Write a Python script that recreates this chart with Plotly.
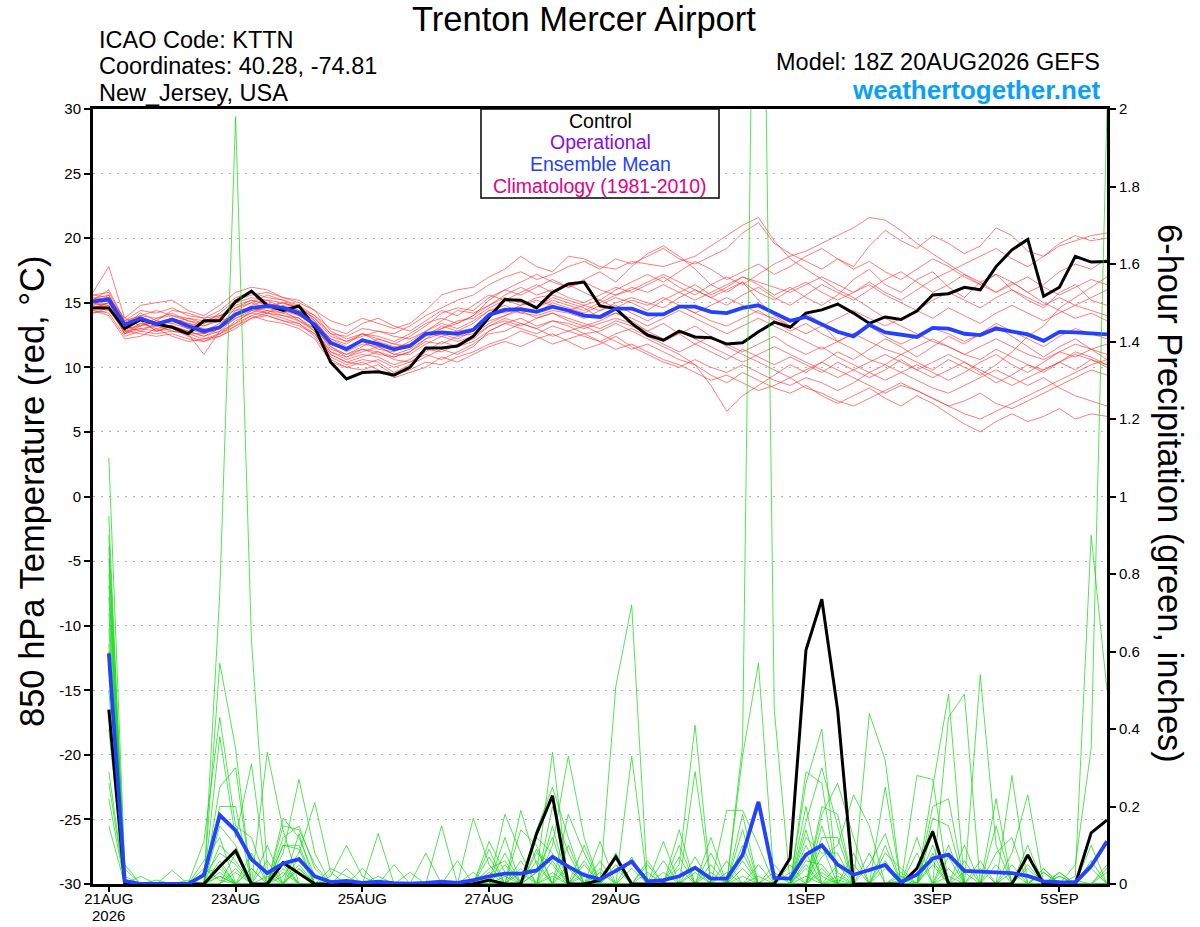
import datetime as dt
import plotly.graph_objects as go

# ---------------- data ----------------
run_start = dt.datetime(2026, 8, 20, 18)
n_steps = 65  # 6-hourly, 20AUG 18Z .. 5SEP 18Z

tick_dates = ["2026-08-21", "2026-08-23", "2026-08-25", "2026-08-27",
              "2026-08-29", "2026-09-01", "2026-09-03", "2026-09-05"]
tick_labels = ["21AUG", "23AUG", "25AUG", "27AUG", "29AUG", "1SEP", "3SEP", "5SEP"]
year_label = "2026"

temp_ticks = [30, 25, 20, 15, 10, 5, 0, -5, -10, -15, -20, -25, -30]
precip_ticks = [0, 0.2, 0.4, 0.6, 0.8, 1.0, 1.2, 1.4, 1.6, 1.8, 2.0]
precip_tick_labels = ["0", "0.2", "0.4", "0.6", "0.8", "1", "1.2", "1.4", "1.6", "1.8", "2"]

# Control (black) 850 hPa temperature, steps 0..64
control_temp = [14.6, 14.6, 13.0, 13.7, 13.35, 13.1, 12.6, 13.6, 13.6, 15.1,
                15.9, 14.8, 14.4, 14.75, 13.1, 10.4, 9.1, 9.6, 9.65, 9.4,
                10.0, 11.5, 11.5, 11.65, 12.4, 13.9, 15.25, 15.2, 14.6, 15.8,
                16.45, 16.6, 14.75, 14.55, 13.4, 12.5, 12.1, 12.8, 12.35, 12.3,
                11.8, 11.9, 12.75, 13.5, 13.1, 14.2, 14.45, 14.9, 14.2, 13.4,
                13.9, 13.7, 14.35, 15.6, 15.7, 16.2, 16.0, 17.8, 19.1, 19.9,
                15.5, 16.2, 18.6, 18.15, 18.2]

# Ensemble mean (blue) temperature, steps 0..64
mean_temp = [15.1, 15.25, 13.3, 13.8, 13.35, 13.7, 13.2, 12.8, 13.1, 14.1,
             14.6, 14.75, 14.6, 14.2, 13.3, 11.9, 11.4, 12.1, 11.8, 11.4,
             11.65, 12.6, 12.7, 12.6, 12.9, 14.05, 14.45, 14.5, 14.3, 14.7,
             14.4, 14.0, 13.9, 14.55, 14.55, 14.1, 14.1, 14.7, 14.7, 14.3,
             14.2, 14.6, 14.8, 14.2, 13.6, 13.9, 13.3, 12.75, 12.4, 13.3,
             12.7, 12.5, 12.35, 13.05, 13.0, 12.6, 12.5, 13.0, 12.75, 12.55,
             12.05, 12.75, 12.7, 12.6, 12.55]

# Ensemble members (red) temperature, steps 0..64
temp_members = [
    [15.3, 15.6, 13.5, 14.0, 13.8, 14.2, 13.6, 13.4, 13.9, 15.0, 15.4, 15.2, 15.0, 14.6, 13.8,
     12.6, 12.4, 13.0, 12.8, 12.6, 13.2, 14.0, 14.6, 15.2, 15.6, 16.4, 17.0, 17.4, 16.8, 17.2,
     17.8, 18.2, 17.6, 18.4, 18.0, 18.6, 19.2, 18.4, 18.0, 18.6, 19.2, 20.4, 21.2, 19.6, 18.8,
     18.2, 17.6, 18.4, 17.8, 19.4, 20.6, 19.8, 19.2, 20.2, 19.6, 18.8, 19.4, 20.8, 20.2, 19.0,
     18.6, 19.6, 20.2, 19.8, 20.0],
    [14.8, 15.0, 12.8, 13.4, 13.0, 13.2, 12.8, 12.4, 13.0, 14.4, 15.0, 15.6, 15.2, 14.8, 13.6,
     12.0, 11.2, 11.8, 11.6, 11.0, 11.4, 12.2, 13.0, 13.4, 14.0, 15.2, 16.0, 16.6, 17.2, 16.6,
     16.2, 16.8, 17.4, 16.6, 17.8, 18.8, 19.4, 18.6, 17.6, 16.4, 15.8, 16.6, 15.2, 14.0, 13.2,
     14.2, 13.4, 12.0, 11.4, 10.6, 10.2, 11.0, 10.4, 9.8, 10.6, 10.0, 9.4, 10.2, 11.2, 12.4,
     13.2, 14.6, 15.4, 16.2, 17.0],
    [15.0, 14.6, 13.2, 12.8, 13.4, 13.8, 13.4, 13.0, 12.6, 13.6, 14.2, 14.8, 14.4, 14.0, 13.4,
     11.6, 10.8, 11.4, 11.2, 10.8, 11.2, 12.0, 11.8, 12.4, 12.6, 13.4, 14.0, 14.6, 14.2, 15.0,
     14.6, 14.2, 14.8, 15.4, 15.0, 14.4, 15.2, 15.8, 16.4, 15.6, 16.2, 17.0, 16.4, 15.6, 16.2,
     15.4, 14.8, 15.6, 16.8, 17.6, 16.4, 15.8, 16.8, 17.4, 16.2, 15.4, 16.6, 17.2, 16.0, 15.2,
     14.6, 15.8, 16.4, 15.2, 14.8],
    [15.4, 15.2, 13.0, 13.6, 12.8, 13.0, 12.4, 12.0, 12.6, 13.2, 14.0, 14.4, 14.0, 13.6, 12.8,
     11.0, 10.4, 10.2, 10.6, 10.0, 10.4, 11.0, 10.6, 11.2, 11.8, 12.6, 12.8, 13.4, 13.0, 12.4,
     12.8, 13.2, 12.6, 12.0, 11.4, 11.8, 11.2, 10.6, 10.2, 9.4, 8.8, 9.6, 9.0, 8.4, 8.0,
     8.6, 7.8, 7.2, 7.8, 8.4, 7.6, 7.0, 7.8, 7.2, 6.4, 5.6, 5.0, 5.8, 6.4, 5.8,
     6.2, 6.8, 6.0, 6.4, 6.2],
    [14.6, 14.8, 12.6, 13.2, 13.6, 13.4, 13.0, 12.8, 13.4, 14.2, 14.6, 14.2, 14.8, 14.4, 13.2,
     11.4, 11.0, 11.6, 12.2, 11.8, 11.6, 12.4, 13.2, 12.8, 13.4, 14.4, 14.8, 14.2, 14.6, 15.4,
     15.0, 14.6, 13.8, 14.2, 13.6, 12.8, 13.4, 12.6, 11.8, 11.2, 10.6, 11.4, 10.8, 10.2, 10.8,
     10.2, 9.6, 10.4, 9.8, 9.2, 9.8, 10.6, 9.8, 9.2, 9.8, 10.4, 9.6, 8.8, 9.4, 10.2,
     9.6, 10.4, 11.2, 10.8, 10.2],
    [15.2, 16.0, 13.6, 14.4, 14.2, 14.6, 14.0, 13.8, 14.4, 15.4, 15.8, 15.4, 15.2, 14.6, 14.0,
     13.0, 12.6, 13.4, 13.8, 13.2, 12.8, 13.6, 14.4, 14.0, 14.8, 15.6, 15.2, 15.8, 16.4, 15.8,
     16.4, 15.8, 15.2, 16.0, 16.6, 17.2, 16.6, 17.4, 18.2, 17.6, 16.8, 17.4, 18.0, 17.2, 17.8,
     18.6, 19.2, 18.4, 17.6, 18.2, 17.4, 16.8, 17.6, 18.4, 17.8, 17.0, 16.4, 17.2, 16.6, 15.8,
     16.4, 17.4, 18.0, 17.6, 18.4],
    [14.4, 14.2, 12.4, 12.8, 12.6, 12.8, 12.6, 11.0, 12.8, 13.8, 14.2, 14.0, 13.6, 13.4, 12.6,
     10.8, 10.2, 10.6, 10.4, 9.6, 10.2, 10.8, 11.4, 11.0, 11.6, 12.8, 13.4, 13.8, 13.2, 13.6,
     13.2, 12.6, 12.8, 13.4, 12.8, 12.2, 11.6, 11.0, 10.2, 8.6, 6.6, 7.8, 8.6, 9.4, 10.2,
     9.6, 10.4, 11.2, 10.6, 11.4, 12.2, 11.6, 10.8, 11.6, 12.4, 11.8, 12.6, 13.2, 12.4, 11.6,
     10.8, 11.6, 12.2, 11.4, 10.6],
    [15.6, 15.4, 13.4, 13.8, 13.2, 13.6, 13.2, 12.6, 13.2, 14.6, 15.2, 15.0, 14.6, 14.0, 13.2,
     11.8, 11.4, 12.2, 11.8, 11.4, 12.0, 12.8, 13.6, 14.4, 14.2, 14.8, 15.6, 16.2, 15.6, 16.0,
     15.4, 15.0, 15.6, 16.2, 15.8, 16.4, 17.0, 16.2, 15.6, 16.4, 17.0, 16.4, 17.2, 18.0, 18.6,
     19.0, 19.6, 20.2, 20.8, 21.6, 21.4, 20.6, 19.6, 18.8, 18.0, 17.2, 16.4, 15.8, 16.6, 15.8,
     15.0, 14.4, 13.8, 14.2, 13.6],
    [14.2, 14.4, 12.8, 12.6, 12.4, 12.6, 12.2, 12.0, 12.4, 13.0, 13.8, 14.2, 13.8, 13.4, 12.4,
     10.6, 10.0, 9.8, 10.2, 9.4, 9.8, 10.4, 10.2, 10.8, 11.2, 11.8, 12.2, 12.8, 12.4, 11.8,
     12.2, 12.6, 12.0, 11.4, 11.8, 11.2, 10.6, 10.2, 9.6, 9.0, 9.4, 8.8, 8.2, 8.6, 9.2,
     8.4, 8.0, 7.4, 7.0, 7.6, 8.2, 8.8, 8.2, 7.6, 7.0, 7.4, 8.0, 7.2, 6.8, 7.4,
     8.0, 8.6, 9.2, 9.8, 9.4],
    [15.0, 15.2, 13.4, 13.6, 13.4, 13.8, 13.4, 13.2, 13.6, 14.0, 14.8, 15.2, 14.6, 14.2, 13.4,
     12.2, 11.8, 12.6, 12.0, 11.6, 11.8, 12.6, 12.4, 12.8, 13.0, 14.2, 14.6, 14.2, 14.0, 14.4,
     14.2, 13.8, 14.4, 14.8, 14.2, 13.6, 14.2, 14.8, 14.2, 13.6, 13.2, 13.8, 14.4, 13.6, 12.8,
     13.4, 12.6, 12.0, 12.6, 13.2, 12.4, 11.8, 12.4, 13.0, 12.6, 12.0, 12.6, 13.4, 12.8, 12.2,
     11.6, 12.4, 13.0, 12.6, 12.2],
    [15.8, 17.8, 13.8, 14.8, 15.0, 15.2, 14.4, 14.0, 14.8, 15.8, 16.2, 16.0, 15.4, 15.0, 14.4,
     13.6, 13.2, 13.8, 13.4, 13.0, 13.4, 14.4, 15.6, 16.0, 16.2, 17.0, 17.6, 18.6, 17.8, 17.4,
     18.6, 18.4, 17.8, 17.6, 18.2, 18.0, 17.8, 18.2, 18.6, 19.4, 20.2, 21.0, 21.6, 19.8, 18.4,
     17.6, 16.8, 16.0, 15.4, 14.6, 13.8, 13.2, 12.6, 12.0, 11.6, 11.0, 10.6, 11.4, 10.8, 10.2,
     9.8, 10.4, 11.0, 10.6, 10.0],
    [14.6, 15.0, 13.0, 13.2, 13.8, 14.0, 13.6, 13.2, 13.8, 14.8, 15.2, 14.8, 15.0, 14.4, 13.6,
     12.2, 11.6, 12.0, 11.4, 11.2, 11.8, 12.6, 13.0, 13.6, 13.8, 14.6, 15.2, 14.8, 15.4, 15.6,
     15.2, 14.8, 14.4, 15.0, 15.4, 15.0, 14.6, 15.4, 16.0, 15.4, 14.8, 15.6, 16.2, 15.4, 14.8,
     15.6, 16.4, 15.8, 15.2, 16.0, 16.8, 17.4, 16.6, 15.8, 16.4, 17.2, 16.6, 15.8, 16.4, 17.0,
     16.2, 15.6, 16.2, 16.8, 16.4],
    [15.2, 15.4, 12.6, 13.0, 12.8, 13.2, 12.8, 12.4, 12.8, 13.4, 14.4, 14.6, 14.2, 13.8, 12.8,
     11.2, 10.6, 11.0, 10.8, 10.2, 10.6, 11.4, 11.2, 11.8, 12.2, 13.2, 13.6, 13.2, 13.8, 14.2,
     13.8, 13.4, 13.0, 13.6, 13.2, 12.6, 12.0, 12.6, 13.2, 12.4, 11.8, 11.2, 11.8, 12.4, 11.6,
     11.0, 11.6, 10.8, 10.2, 9.6, 9.0, 9.6, 10.2, 9.6, 9.0, 9.6, 10.4, 11.0, 10.2, 9.6,
     10.4, 11.2, 10.8, 11.4, 11.8],
    [14.8, 15.6, 13.2, 14.2, 13.6, 13.4, 13.8, 13.6, 14.0, 14.4, 14.6, 14.4, 14.2, 14.8, 14.0,
     12.6, 12.0, 12.4, 12.8, 12.4, 12.2, 12.8, 13.4, 13.0, 13.6, 14.4, 14.2, 14.8, 15.2, 14.8,
     14.4, 14.8, 15.2, 14.6, 15.2, 14.8, 15.4, 14.8, 14.2, 14.8, 15.4, 14.8, 14.2, 13.8, 13.2,
     12.6, 13.2, 13.8, 14.4, 13.8, 13.2, 13.8, 14.4, 13.8, 14.6, 14.0, 13.4, 14.2, 14.8, 14.2,
     13.6, 14.2, 14.8, 14.4, 14.0],
    [14.4, 14.0, 12.2, 12.4, 13.0, 12.4, 12.0, 12.2, 12.6, 13.4, 14.0, 13.6, 13.4, 13.0, 12.2,
     10.4, 10.0, 10.4, 9.8, 9.2, 9.6, 10.0, 10.8, 10.4, 11.0, 11.6, 12.0, 11.6, 12.2, 12.6,
     12.0, 11.4, 11.8, 12.4, 11.6, 11.0, 10.4, 10.0, 10.6, 10.0, 9.6, 10.2, 9.6, 9.0, 8.6,
     9.2, 8.8, 8.2, 8.8, 9.6, 10.2, 9.6, 9.0, 8.4, 8.0, 8.6, 9.2, 9.8, 9.2, 8.6,
     9.2, 8.4, 7.8, 7.4, 7.0],
    [15.6, 15.8, 13.6, 14.0, 14.4, 14.0, 13.8, 13.4, 14.2, 15.2, 15.6, 15.8, 15.4, 15.2, 14.4,
     12.8, 12.2, 12.6, 12.2, 11.8, 12.4, 13.2, 14.2, 14.6, 14.4, 15.4, 16.0, 15.6, 16.2, 16.8,
     16.2, 16.6, 16.0, 15.6, 16.2, 15.8, 16.4, 15.8, 15.2, 15.8, 16.4, 17.0, 16.6, 16.2, 15.8,
     16.4, 17.0, 16.4, 15.8, 16.6, 15.8, 15.2, 16.0, 16.8, 17.4, 18.0, 18.6, 19.2, 18.4, 17.8,
     18.6, 19.4, 19.8, 20.2, 20.4],
    [14.2, 14.6, 12.6, 13.4, 13.2, 12.8, 12.6, 12.2, 12.4, 13.2, 13.8, 14.0, 13.6, 13.2, 12.6,
     11.0, 10.4, 10.8, 11.2, 10.6, 10.4, 11.2, 12.0, 11.6, 12.0, 12.8, 13.4, 13.0, 12.6, 13.2,
     12.8, 12.4, 12.0, 12.6, 13.0, 12.4, 11.8, 11.2, 11.8, 12.4, 11.6, 11.0, 10.4, 9.8, 9.2,
     9.8, 10.4, 9.8, 9.2, 8.6, 8.0, 8.6, 8.2, 7.6, 7.0, 6.4, 6.0, 6.6, 7.2, 7.8,
     8.4, 9.0, 9.6, 10.2, 10.6],
    [15.0, 15.4, 13.8, 13.2, 13.6, 14.4, 14.2, 13.8, 14.0, 14.6, 15.0, 14.6, 15.0, 14.6, 13.8,
     12.4, 12.0, 12.6, 12.4, 12.0, 12.6, 13.4, 13.8, 13.4, 14.0, 14.8, 15.4, 15.0, 14.6, 15.2,
     14.8, 14.4, 15.0, 15.6, 16.0, 16.6, 17.2, 16.6, 16.0, 15.4, 16.0, 16.6, 15.8, 15.2, 16.0,
     16.6, 15.8, 15.2, 15.8, 16.4, 15.6, 15.0, 14.4, 15.2, 15.8, 15.2, 14.6, 15.4, 16.0, 15.4,
     14.8, 15.4, 14.8, 15.4, 16.0],
    [14.6, 15.0, 13.0, 13.6, 12.8, 13.2, 12.6, 12.6, 13.2, 14.0, 14.6, 14.8, 14.4, 13.6, 13.0,
     11.6, 11.0, 11.4, 11.0, 10.8, 11.2, 12.2, 12.6, 12.2, 12.8, 13.6, 14.0, 14.4, 13.8, 14.2,
     13.6, 13.2, 13.6, 14.2, 13.8, 13.2, 13.8, 14.4, 13.8, 13.2, 12.6, 13.2, 13.8, 13.2, 12.6,
     12.0, 11.4, 12.0, 12.6, 12.0, 11.4, 11.0, 11.6, 12.2, 11.6, 11.0, 11.6, 12.2, 11.6, 11.0,
     10.6, 11.2, 11.8, 11.4, 11.0],
    [15.0, 14.8, 12.8, 13.0, 13.2, 13.6, 13.0, 12.6, 13.0, 13.8, 14.4, 14.2, 14.0, 13.8, 13.0,
     11.2, 10.8, 11.2, 11.6, 11.0, 11.0, 11.8, 12.4, 12.0, 12.4, 13.2, 13.8, 13.4, 13.0, 13.6,
     13.4, 13.0, 13.4, 13.8, 13.4, 12.8, 12.2, 12.8, 12.2, 11.6, 11.0, 10.4, 11.0, 11.6, 11.0,
     10.4, 9.8, 9.2, 9.8, 10.4, 11.0, 10.4, 9.8, 10.4, 11.0, 10.4, 9.8, 9.2, 8.6, 9.2,
     9.8, 10.4, 9.8, 10.6, 10.2],
]

# 6-hour precipitation, steps 1..64 (first total ends 21AUG 00Z)
control_precip = [0.45, 0, 0, 0, 0, 0, 0, 0.045, 0.086, 0, 0, 0.055, 0.028, 0, 0, 0,
                  0, 0, 0, 0, 0, 0, 0, 0, 0.01, 0, 0, 0.13, 0.228, 0, 0, 0.01,
                  0.07, 0, 0, 0, 0, 0, 0, 0, 0, 0, 0, 0.067, 0.604, 0.735, 0.449, 0,
                  0, 0, 0, 0.04, 0.135, 0, 0, 0, 0, 0, 0.075, 0, 0, 0, 0.132, 0.165]

mean_precip = [0.595, 0.008, 0, 0, 0, 0, 0.023, 0.178, 0.138, 0.064, 0.028, 0.053, 0.064, 0.02, 0.005, 0.008,
               0.003, 0.006, 0.002, 0.001, 0.003, 0.006, 0.003, 0.01, 0.02, 0.027, 0.027, 0.035, 0.07, 0.045, 0.023, 0.012,
               0.034, 0.058, 0.007, 0.01, 0.02, 0.042, 0.014, 0.014, 0.075, 0.212, 0.016, 0.014, 0.076, 0.1, 0.05, 0.024,
               0.036, 0.049, 0.005, 0.024, 0.066, 0.076, 0.034, 0.032, 0.03, 0.028, 0.021, 0.007, 0.005, 0.004, 0.046, 0.11]

precip_members = [
    [1.1, .05, 0, 0, 0, 0, .11, .43, .15, .12, 0, .1, .1, 0, 0, 0, 0, 0, 0, 0, 0, 0, 0, 0,
     .07, 0, 0, .12, .08, 0, .05, 0, 0, 0, 0, .06, 0, 0, 0, 0, .33, .57, 0, 0, .06, .05, 0, .08,
     0, 0, 0, 0, .14, 0, 0, 0, 0, .28, 0, 0, .03, 0, 0, 0],
    [.95, 0, 0, 0, .035, 0, 0, .25, .3, 0, .1, 0, .05, 0, .01, 0, 0, .02, 0, 0, 0, 0, 0, 0,
     0, .08, 0, .03, .34, 0, 0, 0, 0, .07, 0, 0, .04, 0, 0, 0, .04, 0, 0, 0, .29, .26, 0, 0,
     0, .06, 0, 0, .06, 0, 0, 0, 0, 0, .1, 0, 0, 0, 0, 0],
    [.9, .04, 0, 0, 0, 0, .02, .08, .05, 0, 0, .08, .27, .08, 0, 0, 0, 0, 0, 0, 0, 0, 0, .03,
     0, 0, .03, 0, 0, .1, 0, 0, .05, 0, 0, 0, 0, 0, .08, 0, 0, 0, .05, 0, 0, .12, .12, 0,
     0, .25, 0, 0, 0, .1, 0, .54, .1, 0, 0, 0, 0, 0, .1, 0],
    [.87, 0, 0, 0, 0, 0, 0, .75, 1.98, .63, .04, 0, 0, 0, 0, 0, 0, 0, 0, 0, 0, 0, 0, 0,
     0, 0, .06, 0, .03, 0, .03, 0, 0, 0, .03, 0, 0, 0, 0, 0, .14, 0, 0, 0, .14, 0, .02, 0,
     0, 0, 0, .12, 0, 0, 0, 0, 0, .03, 0, 0, 0, 0, 0, .04],
    [.84, 0, .02, 0, 0, 0, .06, .12, 0, .08, 0, .03, 0, 0, .04, .02, 0, 0, 0, 0, 0, 0, 0, 0,
     .03, 0, 0, .06, 0, 0, 0, .11, 0, 0, 0, 0, 0, .07, 0, 0, 0, .05, 0, 0, 0, .18, .26, .12,
     0, 0, 0, 0, 0, 0, .03, 0, 0, 0, 0, .04, 0, 0, 0, 0],
    [.8, 0, 0, 0, 0, 0, 0, .57, .35, 0, 0, .15, .14, .05, 0, 0, 0, 0, 0, 0, 0, 0, 0, 0,
     0, .05, 0, 0, .2, .08, 0, 0, .08, 0, 0, 0, .14, 0, 0, 0, .06, 0, 0, 0, .1, .02, 0, 0,
     0, 0, .03, 0, .2, .22, 0, 0, .05, 0, 0, 0, 0, 0, 0, 0],
    [.77, .02, 0, 0, 0, 0, 0, .06, 0, 0, .34, .14, 0, 0, 0, 0, 0, 0, 0, .03, 0, 0, 0, 0,
     0, 0, 0, .09, 0, 0, .02, 0, 0, 0, 0, .03, 0, 0, 0, .06, 0, 0, 0, .05, 0, .1, 0, 0,
     .44, .32, 0, 0, 0, .02, 0, 0, 0, 0, 0, 0, 0, .02, .9, .5],
    [.74, 0, 0, 0, 0, 0, .04, .01, 0, 0, 0, 0, .07, 0, 0, .04, 0, 0, 0, 0, 0, 0, 0, 0,
     .09, 0, 0, 0, .1, .33, .12, 0, 0, 0, 0, 0, 0, .03, 0, 0, .1, 0, 0, 0, .2, 0, 0, .05,
     0, 0, 0, 0, .1, 0, 0, 0, 0, .08, .23, 0, 0, 0, 0, 0],
    [.7, 0, 0, .01, 0, 0, 0, .2, .2, 0, 0, .17, .12, .02, 0, 0, 0, 0, 0, 0, 0, 0, 0, 0,
     0, .18, .08, 0, 0, 0, 0, 0, 0, .33, 0, 0, 0, 0, .03, 0, 0, .02, 0, 0, 0, .2, .18, 0,
     0, 0, 0, 0, .05, 0, .1, 0, 0, 0, 0, .03, 0, 0, .06, 0],
    [.66, 0, 0, 0, 0, 0, .03, .04, 0, 0, 0, .12, .15, .04, 0, 0, 0, 0, 0, 0, 0, 0, 0, 0,
     .04, .06, 0, .03, .12, 0, 0, .04, 0, 0, 0, 0, .05, .41, 0, 0, 0, 0, 0, 0, .04, 0, .05, 0,
     0, .1, 0, 0, 0, .07, 0, 0, .22, 0, 0, 0, 0, 0, 0, .03],
    [.62, 0, 0, 0, 0, 0, 0, .38, .12, .31, 0, 0, 0, 0, 0, 0, 0, 0, .05, 0, 0, 0, 0, 0,
     0, 0, .19, .05, 0, 0, .06, 0, 0, 0, .06, 0, 0, 0, 0, .03, 0, 0, 0, 0, .12, .08, .08, 0,
     0, 0, 0, .28, .27, 0, 0, .04, 0, 0, 0, 0, 0, .01, 0, 0],
    [.6, .01, 0, 0, 0, 0, 0, .03, 0, .04, 0, .02, .08, .21, .03, 0, 0, 0, 0, 0, 0, 0, 0, 0,
     .01, 0, 0, 0, .06, 0, 0, 0, .04, 0, 0, 0, 0, .04, 0, 0, .36, 3.5, .45, 0, 0, .04, 0, 0,
     0, 0, .02, 0, 0, 0, 0, 0, 0, 0, 0, .04, 0, 0, 0, 0],
    [.56, 0, 0, 0, 0, 0, 0, .15, .1, 0, .06, 0, 0, 0, 0, 0, 0, .13, 0, 0, 0, 0, 0, 0,
     0, 0, .14, .1, 0, .05, 0, 0, 0, .04, 0, 0, 0, 0, .05, 0, 0, 0, .03, 0, .02, 0, .01, 0,
     .08, 0, 0, 0, 0, .43, .49, 0, 0, 0, 0, 0, .03, 0, 0, 0],
    [.5, 0, 0, 0, 0, .01, 0, 0, .08, 0, 0, .1, .09, 0, 0, 0, 0, 0, 0, 0, 0, 0, 0, .17,
     .05, 0, 0, 0, .02, 0, 0, .06, 0, 0, 0, 0, .1, 0, 0, 0, .02, 0, 0, 0, .26, .4, 0, 0,
     0, 0, 0, 0, .08, 0, 0, 0, .08, .12, 0, 0, 0, 0, 0, 0],
    [.45, 0, 0, 0, 0, 0, 0, .02, 0, .04, 0, 0, .04, 0, 0, 0, 0, 0, 0, 0, .08, 0, 0, 0,
     0, 0, 0, .14, .25, .12, 0, 0, 0, 0, .05, 0, 0, 0, 0, 0, .18, 0, 0, 0, .05, 0, 0, 0,
     0, .08, .04, 0, .17, .15, 0, 0, 0, 0, .05, 0, 0, .05, .35, 2.0],
    [.4, 0, 0, 0, 0, 0, 0, .1, .06, 0, 0, .06, 0, 0, .02, .1, .02, 0, 0, 0, 0, 0, 0, 0,
     .11, .03, 0, 0, 0, 0, .1, 0, 0, 0, 0, 0, 0, .29, 0, 0, 0, 0, 0, 0, 0, .07, .1, .23,
     .15, 0, 0, 0, 0, 0, 0, .06, 0, 0, 0, 0, .02, 0, 0, 0],
    [.29, 0, 0, 0, 0, 0, 0, 0, .04, 0, 0, 0, .13, 0, 0, 0, 0, 0, 0, 0, 0, 0, 0, 0,
     0, .12, 0, 0, .15, 0, 0, .03, 0, 0, 0, .11, 0, 0, 0, 0, .08, 0, 0, 0, .16, .3, .15, 0,
     0, 0, 0, .08, 0, 0, .06, 0, 0, 0, .04, 0, 0, 0, 0, 0],
    [.26, 0, 0, 0, 0, 0, 0, .05, 0, 0, 0, .05, 0, 0, 0, 0, .04, 0, 0, 0, 0, 0, 0, 0,
     0, 0, .04, 0, 0, .04, 0, 0, .51, .72, 0, 0, 0, 0, 0, 0, 0, 0, 0, 0, 0, .03, 0, 0,
     0, .04, 0, 0, 0, .04, 0, 0, 0, .05, 0, 0, 0, 0, .04, 0],
    [.22, 0, 0, 0, 0, 0, 0, 0, .03, 0, .02, 0, .04, 0, 0, 0, 0, 0, 0, 0, 0, .15, 0, 0,
     0, .02, 0, 0, 0, .18, .08, 0, 0, 0, 0, 0, 0, 0, 0, .19, .19, .1, 0, 0, .08, 0, 0, 0,
     .05, .13, 0, 0, 0, 0, 0, 0, .15, 0, 0, .03, 0, 0, 0, .05],
    [.15, 0, 0, 0, 0, 0, 0, .02, 0, 0, 0, .04, 0, 0, 0, 0, 0, 0, 0, 0, 0, 0, .06, 0,
     0, 0, 0, .08, .05, 0, 0, 0, 0, 0, 0, 0, .07, 0, .12, 0, 0, 0, 0, .03, 0, .15, .03, 0,
     0, 0, .01, 0, .25, .49, 0, 0, 0, 0, 0, 0, .02, 0, 0, 0],
]

for row in temp_members:
    assert len(row) == n_steps, len(row)
for row in precip_members:
    assert len(row) == n_steps - 1, len(row)
assert len(control_temp) == n_steps and len(mean_temp) == n_steps
assert len(control_precip) == n_steps - 1 and len(mean_precip) == n_steps - 1

# ---------------- figure ----------------
times = [run_start + dt.timedelta(hours=6 * i) for i in range(n_steps)]
ptimes = times[1:]

FONT = "Liberation Sans, Arial, Helvetica, sans-serif"
RED = "rgba(255,50,50,0.8)"
GREEN = "rgba(20,215,20,0.9)"
BLUE = "rgb(35,65,255)"

fig = go.Figure()

for row in temp_members:
    fig.add_trace(go.Scatter(x=times, y=row, mode="lines", yaxis="y",
                             line=dict(color=RED, width=0.8), hoverinfo="skip"))
fig.add_trace(go.Scatter(x=times, y=control_temp, mode="lines", yaxis="y",
                         line=dict(color="black", width=3)))
fig.add_trace(go.Scatter(x=times, y=mean_temp, mode="lines", yaxis="y",
                         line=dict(color=BLUE, width=3.8)))

for row in precip_members:
    fig.add_trace(go.Scatter(x=ptimes, y=row, mode="lines", yaxis="y2",
                             line=dict(color=GREEN, width=0.8), hoverinfo="skip"))
fig.add_trace(go.Scatter(x=ptimes, y=control_precip, mode="lines", yaxis="y2",
                         line=dict(color="black", width=3)))
fig.add_trace(go.Scatter(x=ptimes, y=mean_precip, mode="lines", yaxis="y2",
                         line=dict(color=BLUE, width=3.8)))

fig.update_layout(
    width=1200, height=927,
    margin=dict(l=93, r=93, t=109, b=43, autoexpand=False),
    paper_bgcolor="white", plot_bgcolor="white",
    showlegend=False,
    font=dict(family=FONT, color="black", size=15),
    xaxis=dict(
        type="date", automargin=False,
        range=[times[0], times[-1]],
        tickvals=tick_dates, ticktext=tick_labels,
        ticks="outside", ticklen=5, tickwidth=1.5, tickcolor="black",
        ticklabelstandoff=-6,
        showline=True, linewidth=3, linecolor="black", mirror=True,
        showgrid=False, zeroline=False,
        tickfont=dict(size=15),
    ),
    yaxis=dict(
        automargin=False,
        range=[-30, 30],
        tickvals=temp_ticks, ticktext=[str(v) for v in temp_ticks],
        ticks="outside", ticklen=6, tickwidth=1.5, tickcolor="black",
        showline=True, linewidth=3, linecolor="black", mirror=True,
        showgrid=True, gridcolor="#b4b4b4", gridwidth=1, griddash="2px,6px",
        zeroline=False, tickfont=dict(size=15),
    ),
    yaxis2=dict(
        automargin=False,
        range=[0, 2], overlaying="y", side="right",
        tickvals=precip_ticks, ticktext=precip_tick_labels,
        ticks="outside", ticklen=6, tickwidth=1.5, tickcolor="black",
        showline=True, linewidth=3, linecolor="black",
        showgrid=False, zeroline=False, tickfont=dict(size=15),
    ),
)

def px_x(px):
    return (px - 93) / 1014.0

def px_y(py):
    return (884 - py) / 775.0

ann = []
ann.append(dict(text="Trenton Mercer Airport", x=px_x(584), y=px_y(19), xref="paper", yref="paper",
                xanchor="center", yanchor="middle", showarrow=False, font=dict(size=34.5)))
for txt, py in [("ICAO Code: KTTN", 40), ("Coordinates: 40.28, -74.81", 66), ("New_Jersey, USA", 93)]:
    ann.append(dict(text=txt, x=px_x(97), y=px_y(py), xref="paper", yref="paper",
                    xanchor="left", yanchor="middle", showarrow=False, font=dict(size=23.5)))
ann.append(dict(text="Model: 18Z 20AUG2026 GEFS", x=px_x(1102), y=px_y(62), xref="paper", yref="paper",
                xanchor="right", yanchor="middle", showarrow=False, font=dict(size=23.5)))
ann.append(dict(text="<b>weathertogether.net</b>", x=px_x(1102), y=px_y(90.5), xref="paper", yref="paper",
                xanchor="right", yanchor="middle", showarrow=False,
                font=dict(size=26, color="rgb(10,160,250)")))
# year under the first date tick
ann.append(dict(text=year_label, x=tick_dates[0], y=px_y(915.5), xref="x", yref="paper",
                xanchor="center", yanchor="middle", showarrow=False, font=dict(size=15)))
# legend box texts
legend_items = [("Control", "black", 121), ("Operational", "rgb(140,10,225)", 142),
                ("Ensemble Mean", "rgb(35,65,255)", 164), ("Climatology (1981-2010)", "rgb(230,0,130)", 186)]
for txt, col, py in legend_items:
    ann.append(dict(text=txt, x=px_x(600), y=px_y(py), xref="paper", yref="paper",
                    xanchor="center", yanchor="middle", showarrow=False, font=dict(size=19.5, color=col)))
# axis titles
ann.append(dict(text="850 hPa Temperature (red, °C)", x=px_x(32), y=px_y(492), xref="paper", yref="paper",
                xanchor="center", yanchor="middle", showarrow=False, textangle=-90, font=dict(size=34.5)))
ann.append(dict(text="6-hour Precipitation (green, inches)", x=px_x(1170), y=px_y(493), xref="paper", yref="paper",
                xanchor="center", yanchor="middle", showarrow=False, textangle=90, font=dict(size=34.5)))
fig.update_layout(annotations=ann)

fig.add_shape(type="rect", xref="paper", yref="paper",
              x0=px_x(481), x1=px_x(719), y0=px_y(198), y1=px_y(109),
              line=dict(color="black", width=1.5), fillcolor="white", layer="above")

fig.write_html("out.html",
               config={"displayModeBar": False},
               post_script="document.body.style.margin='0';document.body.style.overflow='hidden';")
